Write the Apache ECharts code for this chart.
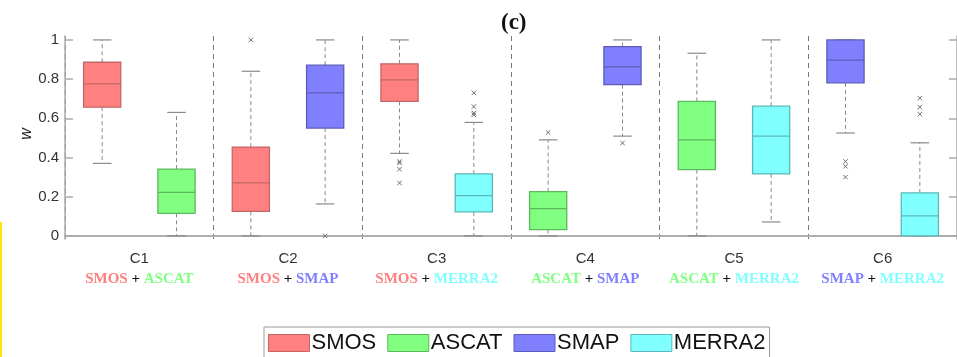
<!DOCTYPE html>
<html>
<head>
<meta charset="utf-8">
<script src="https://cdn.jsdelivr.net/npm/echarts@6/dist/echarts.min.js"></script>
<style>
  html, body { margin: 0; padding: 0; background: #fff; }
  #chart { width: 957px; height: 357px; }
</style>
</head>
<body>
<div id="chart"></div>
<script>
const categories = ['C1', 'C2', 'C3', 'C4', 'C5', 'C6'];
const pairs = [['SMOS', 'ASCAT'], ['SMOS', 'SMAP'], ['SMOS', 'MERRA2'], ['ASCAT', 'SMAP'], ['ASCAT', 'MERRA2'], ['SMAP', 'MERRA2']];
const sensors = ['SMOS', 'ASCAT', 'SMAP', 'MERRA2'];
const yTicks = [0, 0.2, 0.4, 0.6, 0.8, 1];

// [category, lower whisker, q1, median, q3, upper whisker]
const smosBoxes = [['C1', 0.37, 0.657, 0.776, 0.886, 1.0], ['C2', 0, 0.125, 0.27, 0.453, 0.84], ['C3', 0.421, 0.686, 0.796, 0.878, 1.0]];
const ascatBoxes = [['C1', 0, 0.115, 0.222, 0.341, 0.63], ['C4', 0, 0.032, 0.139, 0.226, 0.49], ['C5', 0, 0.338, 0.49, 0.686, 0.932]];
const smapBoxes = [['C2', 0.163, 0.55, 0.73, 0.871, 1.0], ['C4', 0.509, 0.772, 0.862, 0.966, 1.0], ['C6', 0.525, 0.781, 0.897, 1.0, 1.0]];
const merra2Boxes = [['C3', 0, 0.122, 0.205, 0.316, 0.579], ['C5', 0.071, 0.316, 0.509, 0.662, 1.0], ['C6', 0, 0, 0.102, 0.219, 0.475]];

// [category, value]
const smosOutliers = [['C2', 1.0], ['C3', 0.38], ['C3', 0.372], ['C3', 0.34], ['C3', 0.27]];
const ascatOutliers = [['C4', 0.528]];
const smapOutliers = [['C2', 0.0], ['C4', 0.474], ['C6', 0.38], ['C6', 0.355], ['C6', 0.30]];
const merra2Outliers = [['C3', 0.73], ['C3', 0.66], ['C3', 0.627], ['C3', 0.618], ['C6', 0.703], ['C6', 0.657], ['C6', 0.621]];

const boxData = [smosBoxes, ascatBoxes, smapBoxes, merra2Boxes];
const outlierData = [smosOutliers, ascatOutliers, smapOutliers, merra2Outliers];
const fills = ['#ff8080', '#80ff80', '#8080ff', '#80ffff'];
const edges = ['#c46666', '#5cb85c', '#5c5cb8', '#5cb8b8'];
const richKeys = ['smos', 'ascat', 'smap', 'merra'];

const chart = echarts.init(document.getElementById('chart'));

function sideOf(name, ci) {
    return pairs[ci][0] === name ? -1 : 1;
}

function boxRenderer(si) {
    return function (params, api) {
        const ci = api.value(0);
        const band = api.size([1, 0])[0];
        const cx = api.coord([ci, 0])[0] + sideOf(sensors[si], ci) * band * 0.25;
        const half = band * 0.125;
        const capHalf = band * 0.0625;
        const y = k => api.coord([ci, api.value(k)])[1];
        const yLo = y(1), yQ1 = y(2), yMed = y(3), yQ3 = y(4), yHi = y(5);
        const whisk = { stroke: '#8a8a8a', lineWidth: 1, lineDash: [4, 3] };
        const cap = { stroke: '#8a8a8a', lineWidth: 1.2 };
        return {
            type: 'group',
            children: [
                { type: 'line', shape: { x1: cx, y1: yQ3, x2: cx, y2: yHi }, style: whisk },
                { type: 'line', shape: { x1: cx, y1: yQ1, x2: cx, y2: yLo }, style: whisk },
                { type: 'line', shape: { x1: cx - capHalf, y1: yHi, x2: cx + capHalf, y2: yHi }, style: cap },
                { type: 'line', shape: { x1: cx - capHalf, y1: yLo, x2: cx + capHalf, y2: yLo }, style: cap },
                { type: 'rect', shape: { x: cx - half, y: yQ3, width: half * 2, height: yQ1 - yQ3 },
                  style: { fill: fills[si], stroke: edges[si], lineWidth: 1.3 } },
                { type: 'line', shape: { x1: cx - half, y1: yMed, x2: cx + half, y2: yMed },
                  style: { stroke: edges[si], lineWidth: 1.3 } }
            ]
        };
    };
}

function outlierRenderer(si) {
    return function (params, api) {
        const ci = api.value(0);
        const band = api.size([1, 0])[0];
        const cx = api.coord([ci, 0])[0] + sideOf(sensors[si], ci) * band * 0.25;
        const cy = api.coord([ci, api.value(1)])[1];
        const r = 2.2;
        const st = { stroke: '#6e6e6e', lineWidth: 1 };
        return {
            type: 'group',
            children: [
                { type: 'line', shape: { x1: cx - r, y1: cy - r, x2: cx + r, y2: cy + r }, style: st },
                { type: 'line', shape: { x1: cx - r, y1: cy + r, x2: cx + r, y2: cy - r }, style: st }
            ]
        };
    };
}

const series = [];
sensors.forEach((name, si) => {
    series.push({
        name: name,
        type: 'custom',
        renderItem: boxRenderer(si),
        itemStyle: { color: fills[si], borderColor: edges[si] },
        encode: { x: 0, y: [1, 2, 3, 4, 5] },
        data: boxData[si],
        z: 3
    });
});
sensors.forEach((name, si) => {
    series.push({
        name: name + ' outliers',
        type: 'custom',
        renderItem: outlierRenderer(si),
        encode: { x: 0, y: 1 },
        data: outlierData[si],
        z: 4
    });
});

const richStyles = {
    c: { fontFamily: 'Liberation Sans', fontSize: 15, color: '#333', lineHeight: 21 },
    p: { fontFamily: 'Liberation Serif', fontWeight: 'bold', fontSize: 15, color: '#111', lineHeight: 21 }
};
sensors.forEach((name, si) => {
    richStyles[richKeys[si]] = { fontFamily: 'Liberation Serif', fontWeight: 'bold', fontSize: 15, color: fills[si], lineHeight: 21 };
});

const axisLineStyle = { color: '#aaaaaa', width: 1.5 };

const option = {
    animation: false,
    backgroundColor: '#fff',
    title: {
        text: '(c)',
        left: 496,
        top: 7,
        textStyle: { fontFamily: 'Liberation Serif', fontWeight: 'bold', fontSize: 23, color: '#111' }
    },
    legend: {
        data: sensors.map((name, si) => ({
            name: name,
            icon: 'rect',
            itemStyle: { color: fills[si], borderColor: edges[si], borderWidth: 1 }
        })),
        left: 264,
        top: 327,
        itemWidth: 41,
        itemHeight: 17,
        itemGap: 11,
        padding: [5, 4, 5, 4],
        borderColor: '#999',
        borderWidth: 1,
        borderRadius: 0,
        textStyle: { fontFamily: 'Liberation Sans', fontSize: 22, color: '#111', padding: [0, 0, 0, -3] }
    },
    graphic: [
        { type: 'rect', shape: { x: 0, y: 222, width: 2, height: 135 }, style: { fill: '#ffe600' } },
        {
            type: 'text', x: 27, y: 134, rotation: Math.PI / 2,
            style: { text: 'w', font: 'italic 16px "Liberation Sans"', fill: '#222', align: 'center', verticalAlign: 'middle' }
        }
    ],
    grid: { left: 65, top: 36, width: 897, height: 203 },
    xAxis: [
        {
            type: 'category',
            data: categories,
            position: 'bottom',
            axisLine: { lineStyle: axisLineStyle },
            axisTick: { inside: true, alignWithLabel: true, length: 8, lineStyle: axisLineStyle },
            splitLine: { show: true, interval: 0, lineStyle: { color: '#777', width: 1, type: [5, 4] } },
            axisLabel: {
                margin: 9,
                interval: 0,
                formatter: (v, i) => '{c|' + v + '}\n' +
                    '{' + richKeys[sensors.indexOf(pairs[i][0])] + '|' + pairs[i][0] + '}' +
                    '{p| + }' +
                    '{' + richKeys[sensors.indexOf(pairs[i][1])] + '|' + pairs[i][1] + '}',
                rich: richStyles
            }
        },
        {
            type: 'category',
            data: categories,
            position: 'top',
            axisLine: { lineStyle: axisLineStyle },
            axisTick: { inside: true, alignWithLabel: true, length: 8, lineStyle: axisLineStyle },
            axisLabel: { show: false },
            splitLine: { show: false }
        }
    ],
    yAxis: [
        {
            type: 'value',
            min: -0.016,
            max: 1.02,
            axisLine: { show: true, lineStyle: axisLineStyle },
            axisTick: { show: true, inside: true, length: 8, lineStyle: axisLineStyle, customValues: yTicks },
            splitLine: { show: false },
            axisLabel: {
                customValues: yTicks,
                margin: 6,
                fontFamily: 'Liberation Sans',
                fontSize: 15,
                color: '#333',
                formatter: v => (v === 0 || v === 1) ? String(v) : v.toFixed(1)
            }
        },
        {
            type: 'value',
            min: -0.016,
            max: 1.02,
            position: 'right',
            axisLine: { show: true, lineStyle: axisLineStyle },
            axisTick: { show: true, inside: true, length: 8, lineStyle: axisLineStyle, customValues: yTicks },
            axisLabel: { show: false },
            splitLine: { show: false }
        }
    ],
    series: series
};

chart.setOption(option);
</script>
</body>
</html>
